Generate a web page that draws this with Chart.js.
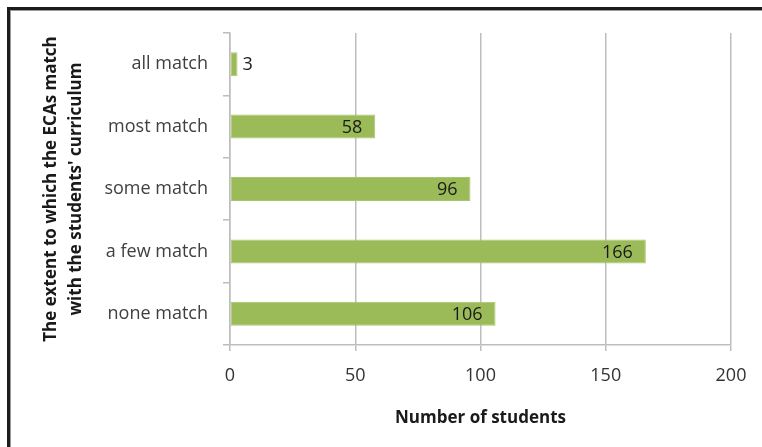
<!DOCTYPE html>
<html lang="en">
<head>
  <meta charset="UTF-8">
  <title>ECAs and curriculum</title>
  <script src="https://cdn.jsdelivr.net/npm/chart.js@4.4.1/dist/chart.umd.min.js"></script>
  <style>
    body { margin: 0; background: #fff; }
    .wrap { position: relative; width: 762px; height: 447px; overflow: hidden; }
    .frame {
      position: absolute; left: 7px; top: 7px; width: 800px; height: 500px;
      border-left: 3px solid #1c1c1c; border-top: 3px solid #1c1c1c;
      box-shadow: inset 1px 1px 0 #9a9a9a;
    }
    canvas { position: absolute; left: 0; top: 0; }
  </style>
</head>
<body>
  <div class="wrap">
    <div class="frame"></div>
    <canvas id="grafico" width="762" height="447"></canvas>
  </div>
  <script>
    const categories = ['all match', 'most match', 'some match', 'a few match', 'none match'];
    const students = [3, 58, 96, 166, 106];
    const xTicks = [0, 50, 100, 150, 200];
    const yTitle = ['The extent to which the ECAs match', "with the students' curriculum"];
    const xTitle = 'Number of students';

    const fuente = "'Open Sans', 'DejaVu Sans', sans-serif";

    // value labels at the end of each bar (inside when there is room)
    const etiquetas = {
      id: 'etiquetas',
      afterDatasetsDraw(chart) {
        const ctx = chart.ctx;
        const meta = chart.getDatasetMeta(0);
        ctx.save();
        ctx.font = '18px ' + fuente;
        ctx.fillStyle = '#1a1a1a';
        ctx.textBaseline = 'middle';
        meta.data.forEach((bar, i) => {
          const txt = String(students[i]);
          const w = ctx.measureText(txt).width;
          if (bar.x - bar.base > w + 20) {
            ctx.textAlign = 'right';
            ctx.fillText(txt, bar.x - 13, bar.y + 1);
          } else {
            ctx.textAlign = 'left';
            ctx.fillText(txt, bar.x + 5, bar.y + 1);
          }
        });
        ctx.restore();
      }
    };

    new Chart(document.getElementById('grafico'), {
      type: 'bar',
      data: {
        labels: categories,
        datasets: [{
          data: students,
          backgroundColor: '#9bbb59',
          borderColor: '#a8c66c',
          borderWidth: 1,
          borderSkipped: false,
          categoryPercentage: 1,
          barPercentage: 0.385
        }]
      },
      options: {
        indexAxis: 'y',
        responsive: false,
        animation: false,
        layout: { padding: { left: 0, top: 33, right: 31, bottom: 0 } },
        plugins: { legend: { display: false }, tooltip: { enabled: false } },
        scales: {
          x: {
            min: xTicks[0],
            max: xTicks[xTicks.length - 1],
            afterFit: s => { s.height = 102; },
            afterBuildTicks: s => { s.ticks = xTicks.map(v => ({ value: v })); },
            grid: { color: '#bdbdbd', lineWidth: 1.5, tickLength: 6 },
            border: { color: '#bdbdbd', width: 1.5 },
            ticks: { color: '#333', padding: 14, font: { family: fuente, size: 18 } },
            title: {
              display: true, text: xTitle, color: '#1a1a1a',
              font: { family: fuente, size: 17, weight: 'bold', lineHeight: 1.2 },
              padding: { top: 0, bottom: 19 }
            }
          },
          y: {
            afterFit: s => { s.width = 230; },
            grid: { drawOnChartArea: false, color: '#bdbdbd', lineWidth: 1.5, tickLength: 7 },
            border: { color: '#bdbdbd', width: 1.5 },
            ticks: { color: '#404040', padding: 15, font: { family: fuente, size: 18 } },
            title: {
              display: true, text: yTitle, color: '#1a1a1a',
              font: { family: fuente, size: 17, weight: 'bold', lineHeight: 1.47 },
              padding: { top: 39, bottom: 0 }
            }
          }
        }
      },
      plugins: [etiquetas]
    });
  </script>
</body>
</html>
